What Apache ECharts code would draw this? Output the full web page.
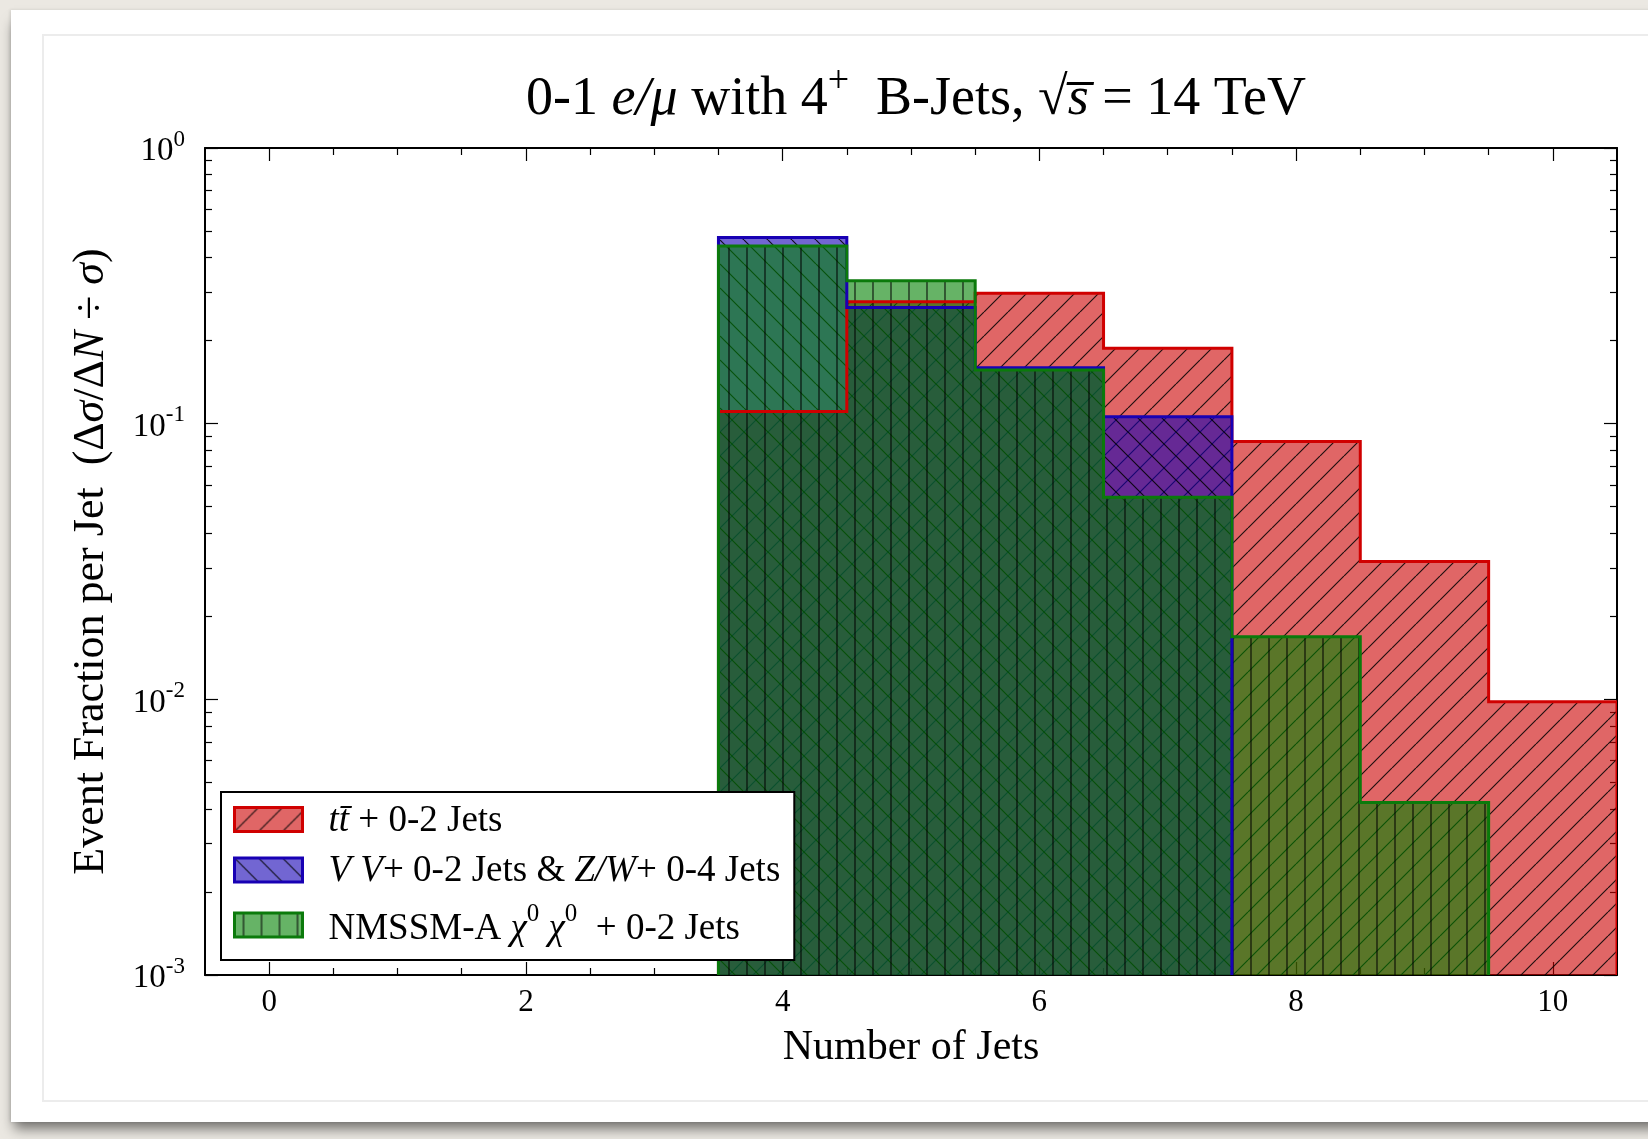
<!DOCTYPE html>
<html><head><meta charset="utf-8">
<script src="https://cdn.jsdelivr.net/npm/echarts@6/dist/echarts.min.js"></script>
<style>
html,body{margin:0;padding:0;width:1648px;height:1139px;overflow:hidden;background:#ebe8e2;}
#card{position:absolute;left:11px;top:10px;width:1665px;height:1112px;background:#fff;box-shadow:0 10px 12px -3px rgba(0,0,0,0.5),-1px 0 3px rgba(0,0,0,0.12);}
#inner{position:absolute;left:42px;top:34px;width:1640px;height:1064px;border:2px solid #ececec;}
#chart{position:absolute;left:0;top:0;width:1648px;height:1139px;}
</style></head><body>
<div id="card"></div><div id="inner"></div><div id="chart"></div>
<script>
// ---------- data ----------
const binCenters = [0, 1, 2, 3, 4, 5, 6, 7, 8, 9, 10];
const ttbarValues = [0, 0, 0, 0, 0.1106, 0.277, 0.297, 0.1877, 0.0861, 0.0316, 0.00981];
const vvValues    = [0, 0, 0, 0, 0.474, 0.264, 0.1596, 0.106, 0, 0, 0];
const nmssmValues = [0, 0, 0, 0, 0.441, 0.330, 0.1566, 0.0541, 0.01688, 0.00422, 0];
const xMajorTicks = [0, 2, 4, 6, 8, 10];
const xMinorTicks = [0.5, 1, 1.5, 2.5, 3, 3.5, 4.5, 5, 5.5, 6.5, 7, 7.5, 8.5, 9, 9.5];
const yMinorTicks = [0.002,0.003,0.004,0.005,0.006,0.007,0.008,0.009,
                     0.02,0.03,0.04,0.05,0.06,0.07,0.08,0.09,
                     0.2,0.3,0.4,0.5,0.6,0.7,0.8,0.9];
const seriesNames = ['ttbar', 'vv', 'nmssm'];
const legendTexts = {
  ttbar: '{sp|}{i|tt\u0304}{r| + 0-2 Jets}',
  vv: '{sp|}{i|V V}{r|+ 0-2 Jets & }{i|Z/W}{r|+ 0-4 Jets}',
  nmssm: '{sp|}{r|NMSSM-A }{i|\u03c7}{sup|0}{r| }{i|\u03c7}{sup|0}{r|  + 0-2 Jets}'
};
const titleText = '{r|0-1 }{i|e/\u03bc}{r| with 4}{sup|+}{r|  B-Jets, \u221a}{i|s\u0305}{r| = 14 TeV}';
const yNameText = '{r|Event Fraction per Jet  (\u0394}{i|\u03c3}{r|/\u0394}{i|N}{r| \u00f7 }{i|\u03c3}{r|)}';
const xNameText = 'Number of Jets';

const X_MIN = -0.5, X_MAX = 10.5, Y_MIN = 0.001, Y_MAX = 1;
const FONT = '"Liberation Serif", "DejaVu Serif", serif';

// ---------- hatch patterns ----------
function makeHatch(fill, kind, s) {
  const c = document.createElement('canvas');
  c.width = s; c.height = s;
  const g = c.getContext('2d');
  g.fillStyle = fill; g.fillRect(0, 0, s, s);
  g.strokeStyle = 'rgba(0,0,0,0.85)'; g.lineWidth = 1.2;
  g.beginPath();
  if (kind === '/') { [-s, 0, s].forEach(k => { g.moveTo(k, s); g.lineTo(k + s, 0); }); }
  else if (kind === '\\') { [-s, 0, s].forEach(k => { g.moveTo(k, 0); g.lineTo(k + s, s); }); }
  else { g.moveTo(s / 2, 0); g.lineTo(s / 2, s); }
  g.stroke();
  return { image: c, repeat: 'repeat' };
}
const styles = {
  ttbar: { pattern: makeHatch('rgba(204,0,0,0.6)', '/', 24), line: '#d00000' },
  vv:    { pattern: makeHatch('rgba(20,0,180,0.6)', '\\', 24), line: '#1800b4' },
  nmssm: { pattern: makeHatch('rgba(0,128,0,0.6)', '|', 18), line: '#0b7a0b' }
};
const valuesOf = { ttbar: ttbarValues, vv: vvValues, nmssm: nmssmValues };

function stepPoints(api, values) {
  const first = values.findIndex(v => v > 0);
  let last = values.length - 1;
  while (last > 0 && !(values[last] > 0)) last--;
  const pts = [api.coord([binCenters[first] - 0.5, Y_MIN])];
  for (let i = first; i <= last; i++) {
    const v = values[i] > 0 ? values[i] : Y_MIN;
    pts.push(api.coord([binCenters[i] - 0.5, v]));
    pts.push(api.coord([binCenters[i] + 0.5, v]));
  }
  pts.push(api.coord([binCenters[last] + 0.5, Y_MIN]));
  return pts;
}

function fillSeries(name) {
  const values = valuesOf[name];
  return {
    type: 'custom', name: name, coordinateSystem: 'cartesian2d', clip: true, z: 2,
    itemStyle: { color: styles[name].pattern, borderColor: styles[name].line },
    data: binCenters.map((c, i) => [c, values[i] > 0 ? values[i] : Y_MIN]),
    renderItem: function (params, api) {
      if (params.dataIndex !== 0) return null;
      return { type: 'polygon', shape: { points: stepPoints(api, values) },
               style: { fill: styles[name].pattern, stroke: null } };
    }
  };
}
function lineSeries(name) {
  const values = valuesOf[name];
  return {
    type: 'custom', name: name, coordinateSystem: 'cartesian2d', clip: true, z: 3,
    itemStyle: { color: styles[name].pattern, borderColor: styles[name].line },
    data: binCenters.map((c, i) => [c, values[i] > 0 ? values[i] : Y_MIN]),
    renderItem: function (params, api) {
      if (params.dataIndex !== 0) return null;
      return { type: 'polyline', shape: { points: stepPoints(api, values) },
               style: { fill: null, stroke: styles[name].line, lineWidth: 3, lineJoin: 'miter' } };
    }
  };
}

const tickLabelStyle = { fontFamily: FONT, fontSize: 31, color: '#000' };
function xAxis(pos, major, withLabels) {
  return {
    type: 'value', position: pos, min: X_MIN, max: X_MAX,
    axisLine: { show: major, onZero: false, lineStyle: { color: '#000', width: 2 } },
    axisTick: { show: true, inside: true, length: major ? 13 : 7,
                customValues: major ? xMajorTicks : xMinorTicks, lineStyle: { color: '#000', width: 1.2 } },
    axisLabel: { show: withLabels, customValues: xMajorTicks, margin: 12, ...tickLabelStyle },
    splitLine: { show: false }
  };
}
function yAxis(pos, major, withLabels) {
  const ax = {
    type: 'log', logBase: 10, position: pos, min: Y_MIN, max: Y_MAX,
    axisLine: { show: major, onZero: false, lineStyle: { color: '#000', width: 2 } },
    axisTick: { show: true, inside: true, length: major ? 13 : 7, lineStyle: { color: '#000', width: 1.2 } },
    axisLabel: {
      show: withLabels, margin: 20,
      formatter: v => '{b|10}{s|' + Math.round(Math.log10(v)) + '}',
      rich: {
        b: { fontFamily: FONT, fontSize: 33, color: '#000', lineHeight: 40, verticalAlign: 'bottom' },
        s: { fontFamily: FONT, fontSize: 23, color: '#000', verticalAlign: 'top' }
      }
    },
    splitLine: { show: false }
  };
  if (!major) ax.axisTick.customValues = yMinorTicks;
  return ax;
}

const xAxes = [xAxis('bottom', true, true), xAxis('bottom', false, false), xAxis('top', true, false), xAxis('top', false, false)];
xAxes[0].name = xNameText;
xAxes[0].nameLocation = 'middle';
xAxes[0].nameGap = 52;
xAxes[0].nameTextStyle = { fontFamily: FONT, fontSize: 42, color: '#000' };
const yAxes = [yAxis('left', true, true), yAxis('left', false, false), yAxis('right', true, false), yAxis('right', false, false)];
yAxes[0].name = yNameText;
yAxes[0].nameLocation = 'middle';
yAxes[0].nameRotate = 90;
yAxes[0].nameGap = 92;
yAxes[0].nameTextStyle = {
  fontFamily: FONT, fontSize: 44, color: '#000',
  rich: {
    r: { fontFamily: FONT, fontSize: 44, color: '#000' },
    i: { fontFamily: FONT, fontSize: 44, color: '#000', fontStyle: 'italic' }
  }
};

const option = {
  animation: false,
  title: {
    text: titleText, left: 911, top: 58, textAlign: 'center',
    textStyle: {
      fontFamily: FONT, fontSize: 54, color: '#000', fontWeight: 'normal',
      rich: {
        r: { fontFamily: FONT, fontSize: 54, color: '#000', lineHeight: 64, verticalAlign: 'bottom' },
        i: { fontFamily: FONT, fontSize: 54, color: '#000', fontStyle: 'italic', lineHeight: 64, verticalAlign: 'bottom' },
        sup: { fontFamily: FONT, fontSize: 38, color: '#000', verticalAlign: 'top' }
      }
    }
  },
  grid: { left: 205, right: 31, top: 148, bottom: 164, containLabel: false },
  xAxis: xAxes,
  yAxis: yAxes,
  legend: {
    orient: 'vertical', left: 221, top: 792,
    padding: [9, 14, 12, 12], itemGap: 12, itemWidth: 68, itemHeight: 24,
    backgroundColor: '#fff', borderColor: '#000', borderWidth: 2, borderRadius: 0,
    data: seriesNames.map(n => ({ name: n, icon: 'rect',
      itemStyle: { color: styles[n].pattern, borderColor: styles[n].line, borderWidth: 3 } })),
    formatter: n => legendTexts[n],
    textStyle: {
      fontFamily: FONT, fontSize: 37, color: '#000',
      rich: {
        sp: { width: 21 },
        r: { fontFamily: FONT, fontSize: 37, color: '#000', lineHeight: 40, verticalAlign: 'bottom' },
        i: { fontFamily: FONT, fontSize: 37, color: '#000', fontStyle: 'italic', lineHeight: 40, verticalAlign: 'bottom' },
        sup: { fontFamily: FONT, fontSize: 25, color: '#000', verticalAlign: 'top', lineHeight: 46 }
      }
    }
  },
  series: [fillSeries('ttbar'), fillSeries('vv'), fillSeries('nmssm'),
           lineSeries('ttbar'), lineSeries('vv'), lineSeries('nmssm')]
};
const chart = echarts.init(document.getElementById('chart'), null, { renderer: 'canvas' });
chart.setOption(option);
</script></body></html>
